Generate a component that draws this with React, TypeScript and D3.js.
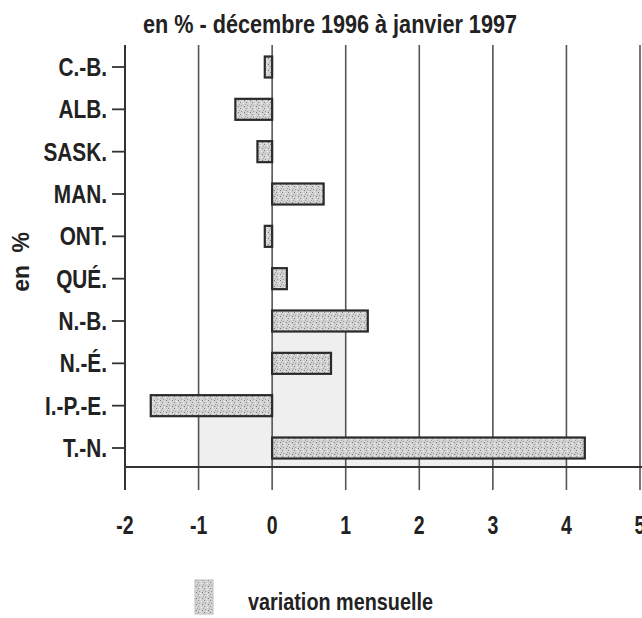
import * as d3 from 'd3';

const provinces = ['C.-B.', 'ALB.', 'SASK.', 'MAN.', 'ONT.', 'QUÉ.', 'N.-B.', 'N.-É.', 'I.-P.-E.', 'T.-N.'];
const variation = [-0.1, -0.5, -0.2, 0.7, -0.1, 0.2, 1.3, 0.8, -1.65, 4.25];
const xTicks = [-2, -1, 0, 1, 2, 3, 4, 5];
const titleText = 'en % - décembre 1996 à janvier 1997';
const yLabel = 'en %';
const legendLabel = 'variation mensuelle';
// pale shaded zones visible on the scan (from, to, starting under which province)
const shadeFrom = [0, -1, 1];
const shadeTo = [1, 0, 4];
const shadeBelow = ['N.-B.', 'I.-P.-E.', 'T.-N.'];

const W = 642;
const H = 618;
const font = '"Liberation Sans", Arial, sans-serif';

// texte condensé (pas de police étroite installée)
const CText = ({ x, y, sx, size, anchor, weight, children }: any) => (
  <text transform={`translate(${x},${y}) scale(${sx},1)`} textAnchor={anchor || 'start'}
    fontFamily={font} fontWeight={weight || 'bold'} fontSize={size} fill="#222">{children}</text>
);

const App = () => {
  const x = d3.scaleLinear().domain([-2, 5]).range([125, 640]);
  const y = d3.scalePoint().domain(provinces).range([67, 448]);
  const top = 45;
  const axisY = 467;
  const barH = 21;

  return (
    <svg width={W} height={H} style={{ position: 'absolute', left: 0, top: 0, background: '#fff' }}>
      <defs>
        <pattern id="stipple" width="6" height="6" patternUnits="userSpaceOnUse">
          <rect width="6" height="6" fill="#d2d2d2" />
          <rect x="0" y="0" width="1" height="1" fill="#888" />
          <rect x="3" y="1" width="1" height="1" fill="#f2f2f2" />
          <rect x="1" y="3" width="1" height="1" fill="#999" />
          <rect x="4" y="4" width="1" height="1" fill="#7a7a7a" />
          <rect x="2" y="5" width="1" height="1" fill="#eeeeee" />
          <rect x="5" y="2" width="1" height="1" fill="#a3a3a3" />
        </pattern>
      </defs>

      {/* zones grisées */}
      {shadeFrom.map((f, i) => (
        <rect key={'s' + i}
          x={x(f)} width={x(shadeTo[i]) - x(f)}
          y={(y(shadeBelow[i]) as number) + barH / 2}
          height={axisY - ((y(shadeBelow[i]) as number) + barH / 2)}
          fill="#efefef" />
      ))}

      {/* grille verticale */}
      {xTicks.map(t => (
        <line key={'g' + t} x1={x(t)} x2={x(t)} y1={top} y2={490}
          stroke={t === -2 ? '#333' : '#555'} strokeWidth={t === -2 ? 2 : 1.6} />
      ))}

      {/* axe horizontal */}
      <line x1={x(-2)} x2={W} y1={axisY} y2={axisY} stroke="#333" strokeWidth={2} />

      {/* barres */}
      {variation.map((v, i) => (
        <rect key={'b' + i}
          x={x(Math.min(0, v))}
          width={Math.abs(x(v) - x(0))}
          y={(y(provinces[i]) as number) - barH / 2}
          height={barH}
          fill="url(#stipple)" stroke="#2a2a2a" strokeWidth={2.2} />
      ))}

      {/* graduations et étiquettes des provinces */}
      {provinces.map(p => (
        <g key={p}>
          <line x1={112} x2={x(-2)} y1={y(p)} y2={y(p)} stroke="#333" strokeWidth={1.8} />
          <CText x={107} y={(y(p) as number) + 9} sx={0.8} size={26} anchor="end">{p}</CText>
        </g>
      ))}

      {/* étiquettes de l'axe x */}
      {xTicks.map(t => (
        <CText key={'t' + t} x={x(t)} y={534} sx={0.78} size={25} anchor="middle">{t}</CText>
      ))}

      <text x={143} y={33} textLength={374} lengthAdjust="spacingAndGlyphs" fontFamily={font}
        fontWeight="bold" fontSize={26} fill="#222">{titleText}</text>

      <text transform="translate(29,262) rotate(-90)" textAnchor="middle" fontFamily={font}
        fontWeight="bold" fontSize={23} wordSpacing={6} fill="#222">{yLabel}</text>

      {/* légende */}
      <rect x={195} y={580} width={18} height={34} fill="url(#stipple)" stroke="#bbb" strokeWidth={1} />
      <text x={248} y={610} textLength={185} lengthAdjust="spacingAndGlyphs" fontFamily={font}
        fontWeight="bold" fontSize={24} fill="#222">{legendLabel}</text>
    </svg>
  );
};

export default App;
